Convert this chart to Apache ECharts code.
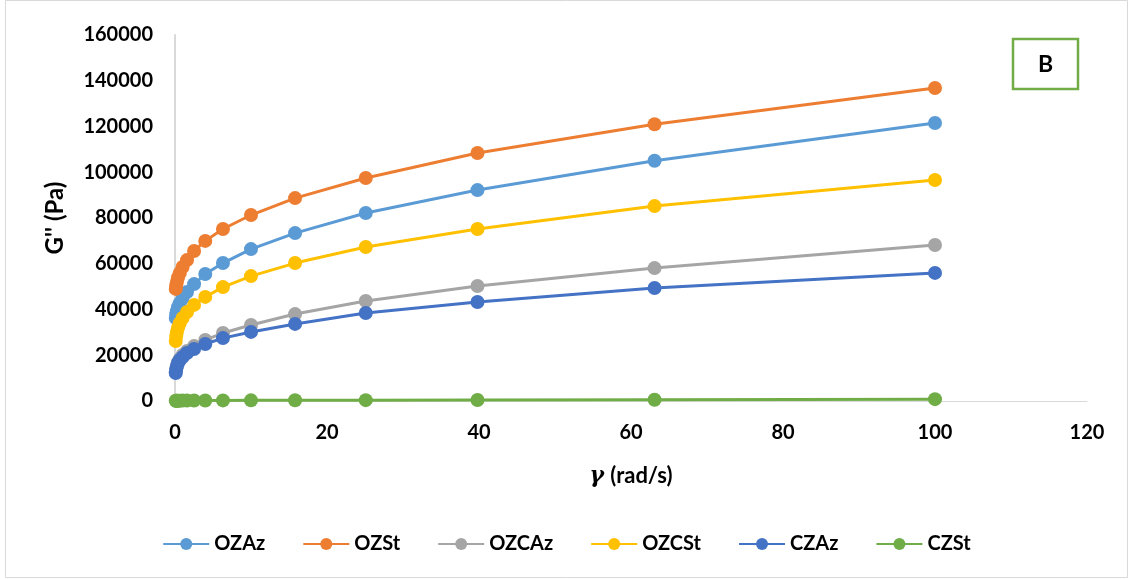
<!DOCTYPE html>
<html><head><meta charset="utf-8">
<script src="https://cdn.jsdelivr.net/npm/echarts@6/dist/echarts.min.js"></script>
<style>html,body{margin:0;padding:0;background:#fff}#c{width:1133px;height:579px}</style>
</head><body><div id="c"></div>
<script>
const freq = [0.1, 0.158, 0.251, 0.398, 0.631, 1, 1.58, 2.51, 3.98, 6.31, 10, 15.8, 25.1, 39.8, 63.1, 100];
const OZAz  = [36300, 38000, 39300, 41000, 42800, 45000, 47600, 51100, 55500, 60300, 66400, 73400, 82200, 92200, 105000, 121500];
const OZSt  = [49000, 50500, 52000, 54000, 56000, 58600, 61600, 65600, 70000, 75200, 81300, 88700, 97500, 108400, 121000, 136800];
const OZCAz = [12700, 14000, 15300, 17000, 18400, 20100, 21900, 24000, 26700, 29700, 33200, 38000, 43700, 50300, 58100, 68200];
const OZCSt = [26200, 28400, 30200, 32000, 34000, 36300, 38900, 42000, 45500, 49800, 54600, 60300, 67300, 75200, 85200, 96600];
const CZAz  = [12200, 14000, 15300, 16600, 17900, 19200, 21000, 22700, 24900, 27500, 30200, 33700, 38500, 43300, 49400, 56000];
const CZSt  = [100, 110, 120, 130, 150, 170, 190, 210, 230, 260, 290, 330, 380, 450, 550, 800];
const seriesNames = ['OZAz', 'OZSt', 'OZCAz', 'OZCSt', 'CZAz', 'CZSt'];
const seriesData = [OZAz, OZSt, OZCAz, OZCSt, CZAz, CZSt];
const colors = ['#5B9BD5', '#ED7D31', '#A5A5A5', '#FFC000', '#4472C4', '#70AD47'];

const chart = echarts.init(document.getElementById('c'));
const font = 'Lato, Carlito, Calibri, sans-serif';
chart.setOption({
  animation: false,
  textStyle: {fontFamily: font},
  grid: {left: 175, right: 46, top: 35, bottom: 178},
  xAxis: {
    type: 'value', min: 0, max: 120, interval: 20,
    axisLine: {show: true, lineStyle: {color: '#d9d9d9', width: 1}},
    axisTick: {show: false}, splitLine: {show: false},
    axisLabel: {color: '#000', fontSize: 20, fontWeight: 'bold', fontFamily: font, margin: 22},
    name: '{g|γ}  {t|(rad/s)}', nameLocation: 'middle', nameGap: 64,
    nameTextStyle: {rich: {
      g: {fontStyle: 'italic', fontWeight: 'bold', fontSize: 22, fontFamily: 'DejaVu Serif', color: '#000'},
      t: {fontWeight: 'bold', fontSize: 22, fontFamily: font, color: '#000'}
    }}
  },
  yAxis: {
    type: 'value', min: 0, max: 160000, interval: 20000,
    axisLine: {show: true, lineStyle: {color: '#d9d9d9', width: 2}},
    axisTick: {show: false}, splitLine: {show: false},
    axisLabel: {color: '#000', fontSize: 20, fontWeight: 'bold', fontFamily: font, margin: 22,
      formatter: v => String(v)},
    name: 'G\'\' (Pa)', nameLocation: 'middle', nameGap: 108, nameRotate: 90,
    nameTextStyle: {color: '#000', fontSize: 24, fontWeight: 'bold', fontFamily: font}
  },
  legend: {
    bottom: 20, left: 'center', itemGap: 37, itemWidth: 46, itemHeight: 15,
    textStyle: {color: '#000', fontSize: 20, fontWeight: 'bold', fontFamily: font},
    data: seriesNames
  },
  series: seriesNames.map((n, i) => ({
    name: n, type: 'line',
    data: freq.map((f, j) => [f, seriesData[i][j]]),
    symbol: 'circle', symbolSize: 14, smooth: false,
    lineStyle: {width: 3, color: colors[i]},
    itemStyle: {color: colors[i]},
    z: 2 + i
  })),
  graphic: [
    {type: 'rect', shape: {x: 5.5, y: 0.5, width: 1122, height: 577}, style: {fill: 'none', stroke: '#d9d9d9', lineWidth: 1}, silent: true},
    {type: 'rect', shape: {x: 1013, y: 39, width: 65, height: 50}, style: {fill: '#fff', stroke: '#70AD47', lineWidth: 2.5}},
    {type: 'text', x: 1045.5, y: 65, style: {text: 'B', fill: '#000', font: 'bold 23px ' + font, align: 'center', verticalAlign: 'middle'}}
  ]
});
</script></body></html>
